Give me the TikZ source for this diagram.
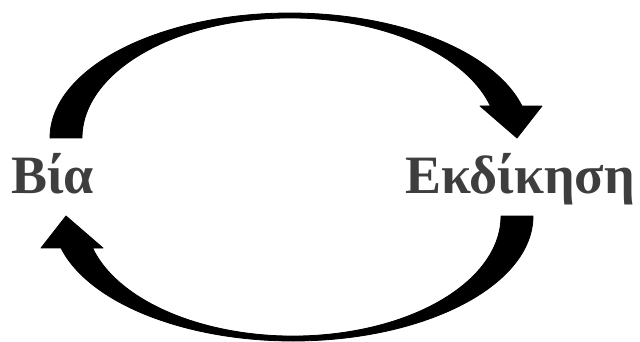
\documentclass[tikz,border=0pt]{standalone}
\usepackage{fontspec}
\setmainfont{Liberation Serif}
\definecolor{lexigray}{HTML}{3E3E3E}
\tikzset{
  bigarrow/.style={fill=black, draw=black, line width=0.8pt, line join=round},
  lexi/.style={text=lexigray, font=\fontsize{54}{60}\selectfont\bfseries, inner sep=0pt}
}
\begin{document}
\begin{tikzpicture}[x=1pt,y=1pt]
			\useasboundingbox (0,0) rectangle (640,341);
			% Λέξεις
			\node[lexi, anchor=base] (via) at (52.5,148) {Βία};
			\node[lexi, anchor=base] (ekdikisi) at (520,148) {Εκδίκηση};
			% Πάνω βέλος
			\draw[bigarrow] (50,203) arc[start angle=180, end angle=14.8, x radius=240pt, y radius=125pt] -- (542,235) -- (517,203) -- (480,235) -- (490.4,235.1) arc[start angle=15.5, end angle=180, x radius=208pt, y radius=120pt] -- cycle;
			% Κάτω βέλος
			\draw[bigarrow] (533,125) arc[start angle=360, end angle=194.8, x radius=240pt, y radius=125pt] -- (41,93) -- (66,125) -- (103,93) -- (92.6,92.9) arc[start angle=195.5, end angle=360, x radius=208pt, y radius=120pt] -- cycle;
		\end{tikzpicture}
\end{document}
